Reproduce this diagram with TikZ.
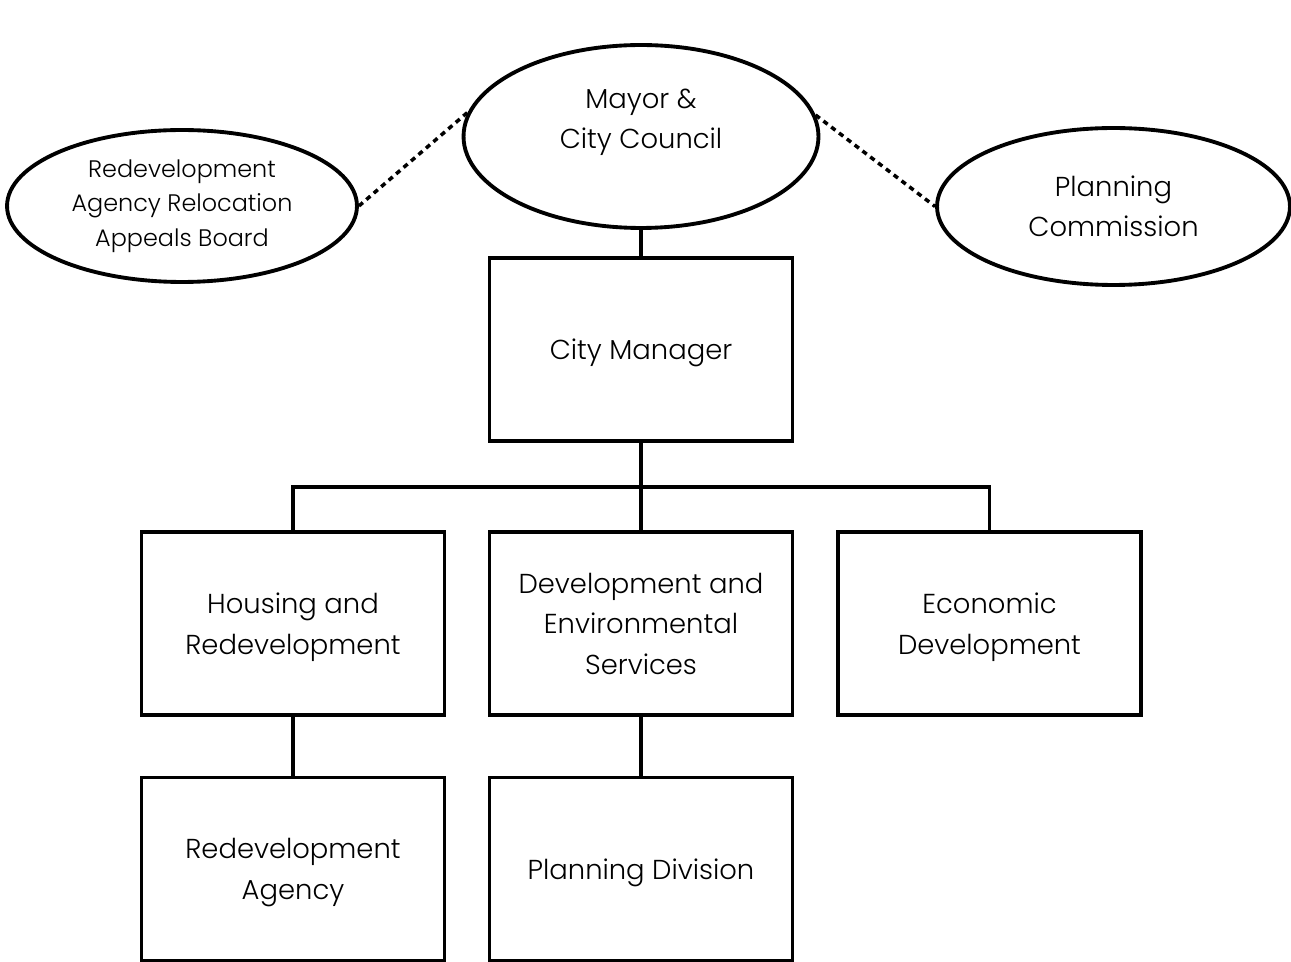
\documentclass[tikz,border=0pt]{standalone}
\usepackage{fontspec}
\setmainfont{Poppins}[UprightFont=* Light]
\usetikzlibrary{shapes.geometric}

\tikzset{
	unit/.style={draw,line width=2.2pt,minimum width=6.06cm,minimum height=3.66cm,align=center,text depth=-3pt,font=\fontsize{15.6}{23}\selectfont},
	board/.style={draw,ellipse,line width=2.2pt,inner sep=0pt,align=center},
	link/.style={line width=2.2pt},
	advise/.style={line width=2pt,dash pattern=on 3pt off 2.6pt}
}

\begin{document}
\begin{tikzpicture}[x=0.02cm,y=-0.02cm]
	\useasboundingbox (0,0) rectangle (1291,962);
\node[board,minimum width=7.1cm,minimum height=3.66cm,text depth=20pt,font=\fontsize{15.6}{23}\selectfont] (mayor) at (641,136.5) {Mayor \&\\City Council};
\node[board,minimum width=7.0cm,minimum height=3.04cm,font=\fontsize{13.6}{19.5}\selectfont] (appeals) at (182,206) {Redevelopment\\Agency Relocation\\Appeals Board};
\node[board,minimum width=7.06cm,minimum height=3.14cm,font=\fontsize{15.6}{23}\selectfont] (commission) at (1113.5,206.5) {Planning\\Commission};
	\node[unit] (manager) at (641,349.5) {City Manager};
	\node[unit] (housing) at (293,623.5) {Housing and\\Redevelopment};
	\node[unit,text depth=-2pt] (devenv) at (641,623.5) {Development and\\Environmental\\Services};
	\node[unit] (econ) at (989.5,623.5) {Economic\\Development};
	\node[unit] (agency) at (293,869) {Redevelopment\\Agency};
	\node[unit] (planning) at (641,869) {Planning Division};
	\coordinate (bus) at (641,487);
\draw[advise] (appeals.east) -- (mayor.172);
\draw[advise] (mayor.7) -- (commission.west);
	\draw[link] (mayor.south) -- (manager.north);
	\draw[link] (manager.south) -- (devenv.north);
	\draw[link] (housing.north) |- (bus) -| (econ.north);
	\draw[link] (housing.south) -- (agency.north);
	\draw[link] (devenv.south) -- (planning.north);
\end{tikzpicture}
\end{document}
